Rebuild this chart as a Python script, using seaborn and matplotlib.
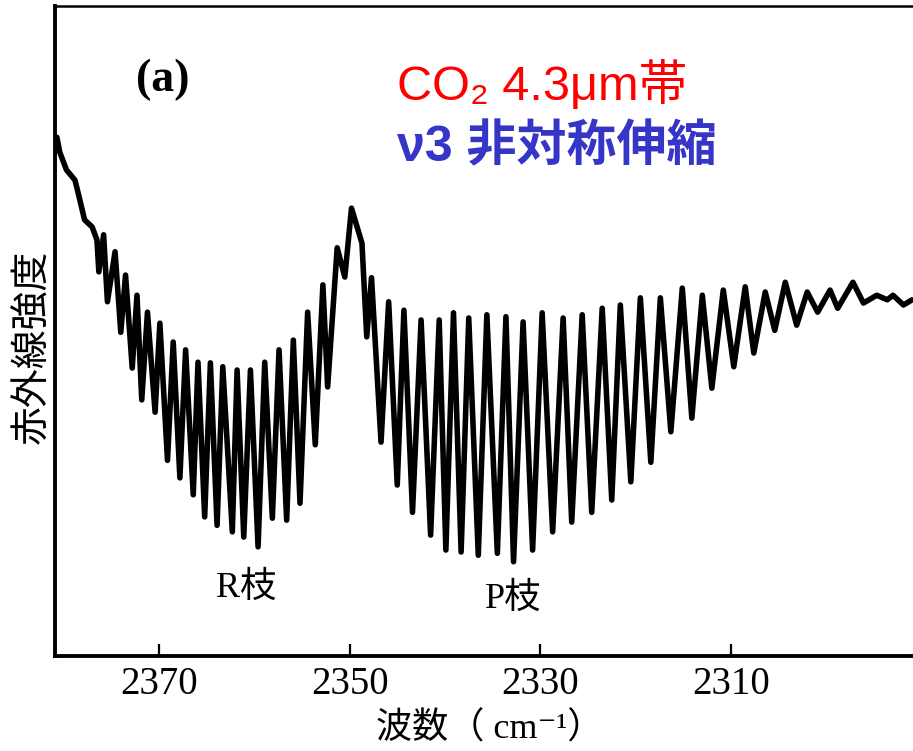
import matplotlib
import numpy as np
import pandas as pd
import seaborn as sns
matplotlib.use('Agg')
from matplotlib import pyplot as plt

# CO2 4.3um band (arbitrary intensity units)
wavenumber = [
    2380.7, 2380.4, 2379.7, 2378.8, 2378.3, 2377.8, 2377.0, 2376.5,
    2376.3, 2375.8, 2375.4, 2374.6, 2374.0, 2373.5, 2372.8, 2372.3,
    2371.8, 2371.2, 2370.4, 2369.9, 2369.1, 2368.5, 2367.8, 2367.2,
    2366.4, 2365.9, 2365.2, 2364.6, 2363.9, 2363.3, 2362.3, 2361.8,
    2361.1, 2360.4, 2359.6, 2358.9, 2358.1, 2357.4, 2356.6, 2355.9,
    2355.2, 2354.4, 2353.6, 2352.8, 2352.3, 2351.3, 2350.5, 2349.8,
    2348.7, 2348.2, 2347.7, 2346.7, 2345.9, 2345.0, 2344.3, 2343.4,
    2342.5, 2341.5, 2340.6, 2339.9, 2339.1, 2338.3, 2337.5, 2336.5,
    2335.6, 2334.5, 2333.6, 2332.8, 2331.8, 2330.8, 2329.8, 2328.7,
    2327.6, 2326.7, 2325.6, 2324.6, 2323.5, 2322.5, 2321.6, 2320.5,
    2319.5, 2318.4, 2317.4, 2316.3, 2315.1, 2314.1, 2313.0, 2312.0,
    2310.8, 2309.7, 2308.5, 2307.6, 2306.4, 2305.4, 2304.3, 2303.1,
    2302.0, 2300.9, 2299.6, 2298.8, 2297.2, 2296.1, 2294.7, 2293.6,
    2293.0, 2291.9, 2291.0,
]
intensity = [
    79.8, 77.5, 74.8, 73.2, 70.2, 67.1, 66.0, 64.0,
    59.1, 64.8, 54.5, 62.2, 49.8, 58.6, 44.3, 55.5,
    39.4, 52.9, 37.5, 51.2, 30.1, 48.3, 27.4, 47.1,
    24.8, 45.2, 21.4, 45.1, 20.1, 44.5, 19.1, 44.0,
    18.3, 44.0, 16.8, 45.2, 21.2, 47.1, 20.9, 48.6,
    23.5, 52.9, 32.5, 57.1, 41.4, 62.8, 58.3, 68.9,
    63.5, 49.1, 58.2, 32.9, 54.5, 26.3, 53.2, 22.1,
    51.7, 18.6, 51.7, 16.3, 52.8, 16.0, 52.0, 15.5,
    52.5, 15.8, 52.2, 14.5, 51.4, 16.3, 52.8, 19.1,
    52.0, 20.6, 52.5, 22.1, 53.5, 24.0, 54.0, 26.8,
    55.1, 29.8, 55.1, 34.5, 56.6, 36.6, 55.5, 41.2,
    56.3, 44.5, 56.8, 46.6, 56.0, 50.1, 57.5, 50.9,
    56.0, 52.9, 56.3, 53.5, 57.5, 54.3, 55.5, 54.8,
    55.5, 54.0, 54.8,
]
xticks = [2370, 2350, 2330, 2310]
branch_labels = ["R枝", "P枝"]
branch_x = [2360.9, 2332.8]
branch_y = [10.5, 8.8]

sns.set_style("ticks", {"axes.edgecolor": "black", "text.color": "black",
                        "xtick.color": "black", "ytick.color": "black"})
plt.rcParams['font.family'] = ['Liberation Serif', 'Noto Sans CJK JP', 'DejaVu Sans']

df = pd.DataFrame({"wavenumber": wavenumber, "intensity": intensity})

fig = plt.figure(figsize=(9.13, 7.51), dpi=100)
ax = fig.add_axes([55/913, 95/751, 858/913, 650/751])

sns.lineplot(data=df, x="wavenumber", y="intensity", color="black",
             lw=4.0, sort=False, ax=ax)

ax.set_xlim(2380.9, 2290.9)
ax.set_ylim(0, 100)
ax.set_xticks(xticks)
ax.set_xticklabels([str(t) for t in xticks], fontsize=28)
ax.set_yticks([])
ax.tick_params(axis='x', direction='in', length=9, width=1.6, pad=7)
ax.set_xlabel("")
ax.set_ylabel("")
for side in ["left", "bottom"]:
    ax.spines[side].set_linewidth(2.8)
ax.spines["top"].set_linewidth(1.8)
ax.spines["right"].set_visible(False)

for lab, bx, by in zip(branch_labels, branch_x, branch_y):
    ax.text(bx, by, lab, fontsize=26, ha='center', va='center')

ax.text(0.126, 0.886, "(a)", transform=ax.transAxes, fontsize=33,
        fontweight='bold', ha='center', va='center')
ax.text(0.399, 0.878, "CO₂ 4.3μm帯", transform=ax.transAxes, fontsize=35,
        color='#ff0000', ha='left', va='center',
        family=['Liberation Sans', 'DejaVu Sans', 'Noto Sans CJK JP'])
ax.text(0.399, 0.782, "ν3 非対称伸縮", transform=ax.transAxes, fontsize=36,
        color='#3535c8', fontweight='bold', ha='left', va='center',
        family=['Liberation Sans', 'Noto Sans CJK JP', 'DejaVu Sans'])

fig.text(490/913, 1 - 729/751, "波数（ cm⁻¹）", fontsize=26,
         ha='center', va='center')
fig.text(32/913, 1 - 347/751, "赤外線強度", fontsize=28, rotation=90,
         ha='center', va='center', family=['Noto Sans CJK JP'])

fig.savefig("out.png", dpi=100)
